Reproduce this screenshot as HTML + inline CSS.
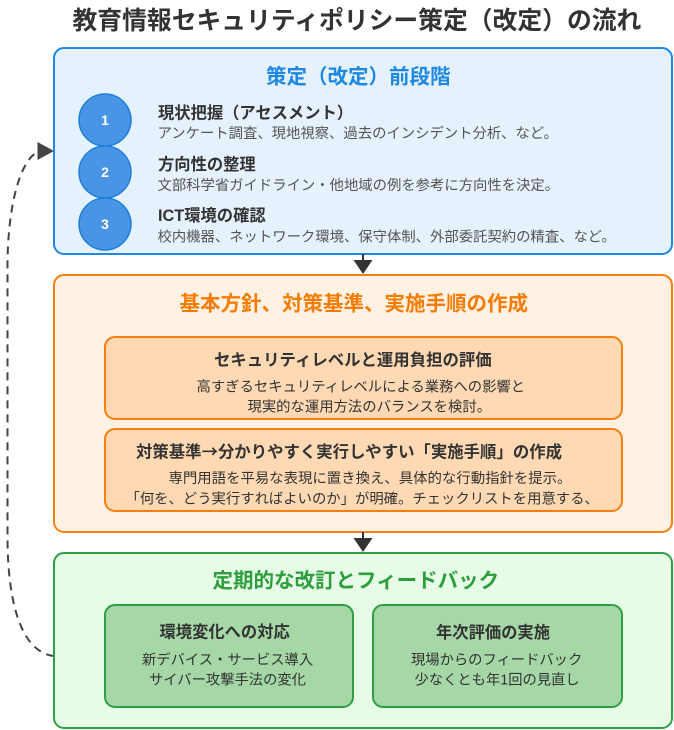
<!DOCTYPE html>
<html>
<head>
<meta charset="utf-8">
<style>
  html, body { margin: 0; padding: 0; background: #ffffff; }
  body { width: 674px; height: 730px; overflow: hidden; }
  svg { display: block; }
  text { font-family: "Liberation Sans", "Noto Sans CJK JP", sans-serif; }
  .cjk { font-family: "Noto Sans CJK JP", "Liberation Sans", sans-serif; }
</style>
</head>
<body>
<svg width="674" height="730" viewBox="0 0 674 730" xmlns="http://www.w3.org/2000/svg">
  <!-- Main title -->
  <text x="72.5" y="29.2" font-size="24.8" font-weight="bold" fill="#333">教育情報セキュリティポリシー策定（改定）の流れ</text>

  <!-- Dashed feedback curve -->
  <path d="M 54,656 C 20,652 8,600 7.5,540 L 7.5,260 C 9,190 25,155 40,151" fill="none" stroke="#444" stroke-width="2" stroke-dasharray="8,6"/>
  <polygon points="37.5,142 54,151 37.5,160" fill="#444"/>

  <!-- Blue box -->
  <rect x="54" y="48" width="618" height="206" rx="10" ry="10" fill="#e5f1fd" stroke="#1e88e5" stroke-width="2"/>
  <text x="266" y="83.6" font-size="20.5" font-weight="bold" fill="#1e88e5">策定（改定）前段階</text>

  <circle cx="105" cy="120" r="26" fill="#4a94e6" stroke="#1e7fdc" stroke-width="1.5"/>
  <circle cx="105" cy="172" r="26" fill="#4a94e6" stroke="#1e7fdc" stroke-width="1.5"/>
  <circle cx="105" cy="224" r="26" fill="#4a94e6" stroke="#1e7fdc" stroke-width="1.5"/>
  <text x="105" y="125" font-size="14" font-weight="bold" fill="#ffffff" text-anchor="middle">1</text>
  <text x="105" y="177" font-size="14" font-weight="bold" fill="#ffffff" text-anchor="middle">2</text>
  <text x="105" y="229" font-size="14" font-weight="bold" fill="#ffffff" text-anchor="middle">3</text>

  <text x="158" y="118.5" font-size="16.3" font-weight="bold" fill="#333">現状把握（アセスメント）</text>
  <text x="157.5" y="137.8" font-size="14.35" fill="#555">アンケート調査、現地視察、過去のインシデント分析、など。</text>
  <text x="158" y="170" font-size="16.3" font-weight="bold" fill="#333">方向性の整理</text>
  <text x="157.5" y="189.8" font-size="14.35" fill="#555">文部科学省ガイドライン・他地域の例を参考に方向性を決定。</text>
  <text x="158" y="221" font-size="16.3" font-weight="bold" fill="#333">ICT環境の確認</text>
  <text x="157.5" y="241.3" font-size="14.35" fill="#555">校内機器、ネットワーク環境、保守体制、外部委託契約の精査、など。</text>

  <!-- Arrow 1 -->
  <line x1="363" y1="254" x2="363" y2="262" stroke="#333" stroke-width="2"/>
  <polygon points="353.5,260 372.5,260 363,274" fill="#333"/>

  <!-- Orange box -->
  <rect x="54" y="275" width="618" height="257" rx="10" ry="10" fill="#fff2e4" stroke="#f77f10" stroke-width="2"/>
  <text x="179.5" y="310.6" font-size="20.5" font-weight="bold" fill="#f57c00">基本方針、対策基準、実施手順の作成</text>

  <rect x="105" y="337" width="517" height="82" rx="10" ry="10" fill="#fed9b3" stroke="#f77f10" stroke-width="2"/>
  <text x="214" y="365.5" font-size="16.4" font-weight="bold" fill="#333">セキュリティレベルと運用負担の評価</text>
  <text x="196.5" y="391.3" font-size="14.35" fill="#333">高すぎるセキュリティレベルによる業務への影響と</text>
  <text x="247.5" y="411.3" font-size="14.35" fill="#333">現実的な運用方法のバランスを検討。</text>

  <rect x="105" y="429" width="517" height="82" rx="10" ry="10" fill="#fed9b3" stroke="#f77f10" stroke-width="2"/>
  <text x="136" y="457.5" font-size="16.4" font-weight="bold" fill="#333">対策基準<tspan class="cjk">→</tspan>分かりやすく実行しやすい「実施手順」の作成</text>
  <text x="168.5" y="482.8" font-size="14.4" fill="#333">専門用語を平易な表現に置き換え、具体的な行動指針を提示。</text>
  <text x="125.5" y="503.3" font-size="14.35" fill="#333">「何を、どう実行すればよいのか」が明確。チェックリストを用意する、</text>

  <!-- Arrow 2 -->
  <line x1="363" y1="532" x2="363" y2="540" stroke="#333" stroke-width="2"/>
  <polygon points="353.5,538 372.5,538 363,552" fill="#333"/>

  <!-- Green box -->
  <rect x="54" y="553" width="618" height="175" rx="10" ry="10" fill="#e6fce6" stroke="#2ea043" stroke-width="2"/>
  <text x="212.5" y="587.6" font-size="20.5" font-weight="bold" fill="#2e9e3e">定期的な改訂とフィードバック</text>

  <rect x="105" y="605" width="248" height="102" rx="10" ry="10" fill="#a5d8a6" stroke="#2ea043" stroke-width="2"/>
  <text x="159.5" y="637.7" font-size="16.3" font-weight="bold" fill="#333">環境変化への対応</text>
  <text x="142" y="664.4" font-size="14.3" fill="#333">新デバイス・サービス導入</text>
  <text x="149" y="684.4" font-size="14.3" fill="#333">サイバー攻撃手法の変化</text>

  <rect x="373" y="605" width="249" height="102" rx="10" ry="10" fill="#a5d8a6" stroke="#2ea043" stroke-width="2"/>
  <text x="436" y="638.1" font-size="16.3" font-weight="bold" fill="#333">年次評価の実施</text>
  <text x="411" y="664.4" font-size="14.3" fill="#333">現場からのフィードバック</text>
  <text x="414.5" y="684.4" font-size="14.3" fill="#333">少なくとも年1回の見直し</text>
</svg>
</body>
</html>
